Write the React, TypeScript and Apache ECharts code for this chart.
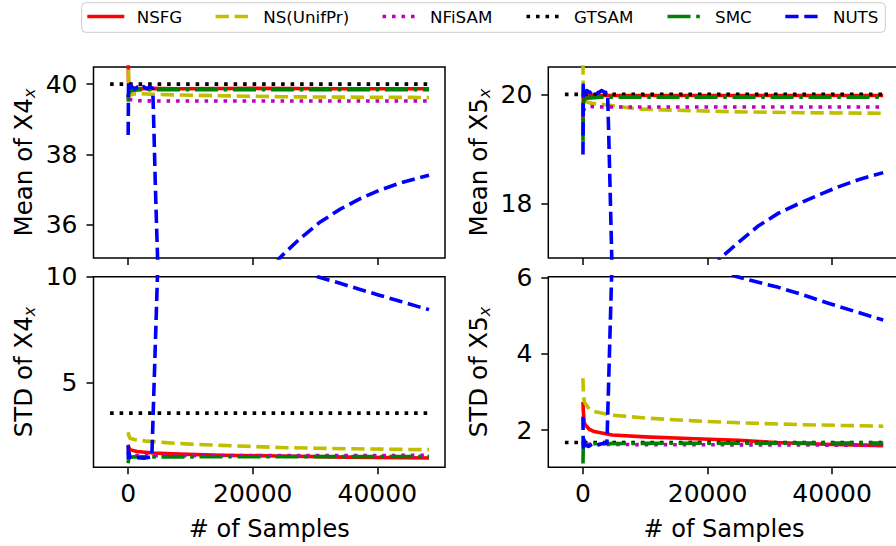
import React, { useEffect, useRef } from "react";
import * as echarts from "echarts";

type Pt = [number, number];

const FONT = '"DejaVu Sans", sans-serif';

const methodNames = ["NSFG", "NS(UnifPr)", "NFiSAM", "GTSAM", "SMC", "NUTS"];
const xTicks = [0, 20000, 40000];
const xTitle = "# of Samples";

// ---- Mean of X4x (top-left)
const meanX4Ticks = [36, 38, 40];
const meanX4_NSFG: Pt[] = [[0, 40.8], [50, 40.1], [150, 39.8], [400, 39.89], [1000, 39.87], [3000, 39.88], [8000, 39.87], [20000, 39.88], [35000, 39.87], [48300, 39.87]];
const meanX4_NSUnif: Pt[] = [[0, 41.5], [40, 40.3], [120, 39.76], [300, 39.68], [800, 39.72], [2000, 39.73], [4000, 39.71], [8000, 39.69], [15000, 39.67], [25000, 39.64], [35000, 39.63], [48300, 39.62]];
const meanX4_NFiSAM: Pt[] = [[0, 39.7], [80, 39.48], [300, 39.56], [1000, 39.53], [5000, 39.52], [48300, 39.52]];
const meanX4_GTSAM: Pt[] = [[-2900, 40], [48300, 40]];
const meanX4_SMC: Pt[] = [[0, 39.5], [50, 39.72], [200, 39.78], [600, 39.82], [2000, 39.84], [10000, 39.84], [48300, 39.84]];
const meanX4_NUTS: Pt[] = [[0, 38.55], [60, 40.05], [200, 39.88], [500, 39.95], [1000, 39.86], [1500, 39.92], [2000, 39.87], [2500, 39.93], [3000, 39.87], [3500, 39.92], [3950, 39.88], [4150, 38.6], [4350, 37.2], [4550, 36.0], [4750, 34.9], [5000, 33.4], [6000, 28.5], [7500, 25.0], [9000, 24.5], [11000, 26.5], [14000, 29.8], [17000, 32.0], [20000, 33.6], [22500, 34.5], [24300, 35.04], [27500, 35.58], [30700, 36.05], [33900, 36.42], [37100, 36.72], [40300, 36.97], [43500, 37.17], [46700, 37.33], [48300, 37.4]];

// ---- Mean of X5x (top-right)
const meanX5Ticks = [18, 20];
const meanX5_NSFG: Pt[] = [[0, 19.5], [60, 20.05], [200, 19.95], [600, 19.99], [2000, 19.98], [10000, 19.98], [48200, 19.98]];
const meanX5_NSUnif: Pt[] = [[0, 20.6], [30, 20.2], [100, 19.95], [400, 19.87], [1200, 19.84], [3700, 19.81], [9000, 19.73], [15000, 19.71], [25000, 19.68], [35000, 19.665], [48200, 19.655]];
const meanX5_NFiSAM: Pt[] = [[0, 19.85], [60, 19.6], [200, 19.74], [600, 19.78], [3000, 19.77], [48200, 19.77]];
const meanX5_GTSAM: Pt[] = [[-2900, 20], [48200, 20]];
const meanX5_SMC: Pt[] = [[0, 19.15], [40, 19.8], [200, 19.9], [600, 19.93], [3000, 19.95], [48200, 19.95]];
const meanX5_NUTS: Pt[] = [[0, 18.9], [50, 20.17], [250, 20.0], [600, 20.07], [1200, 20.03], [1800, 20.08], [2400, 20.02], [3000, 20.07], [3600, 20.03], [3950, 20.04], [4150, 19.2], [4350, 18.3], [4650, 16.9], [5200, 14.8], [6500, 13.2], [8500, 13.0], [11000, 13.9], [14000, 15.0], [17000, 15.9], [20000, 16.6], [22000, 17.0], [25000, 17.3], [28200, 17.6], [31400, 17.83], [34600, 18.0], [37800, 18.16], [41000, 18.31], [44200, 18.44], [48200, 18.57]];

// ---- STD of X4x (bottom-left)
const stdX4Ticks = [5, 10];
const stdX4_NSFG: Pt[] = [[0, 2.1], [100, 1.95], [400, 1.85], [1400, 1.77], [4000, 1.7], [8300, 1.65], [15000, 1.6], [24300, 1.56], [35000, 1.51], [48300, 1.47]];
const stdX4_NSUnif: Pt[] = [[0, 2.68], [80, 2.55], [300, 2.4], [1100, 2.33], [3000, 2.26], [6000, 2.19], [9900, 2.12], [15000, 2.06], [20000, 2.01], [24300, 1.96], [30000, 1.93], [36000, 1.9], [42000, 1.88], [48300, 1.86]];
const stdX4_NFiSAM: Pt[] = [[0, 1.75], [100, 1.62], [500, 1.58], [5000, 1.58], [48300, 1.59]];
const stdX4_GTSAM: Pt[] = [[-2900, 3.58], [48300, 3.58]];
const stdX4_SMC: Pt[] = [[0, 1.22], [60, 1.42], [300, 1.5], [1000, 1.52], [5000, 1.52], [48300, 1.54]];
const stdX4_NUTS: Pt[] = [[0, 2.05], [40, 1.3], [120, 1.75], [300, 1.5], [800, 1.45], [1500, 1.48], [2500, 1.46], [3500, 1.5], [3800, 1.52], [4700, 10.0], [5000, 11.6], [6000, 15.5], [8000, 18], [11000, 17.5], [15000, 15.5], [20000, 13.5], [25000, 11.4], [30400, 10.0], [33900, 9.7], [37100, 9.41], [40300, 9.13], [43500, 8.86], [46700, 8.58], [48300, 8.45]];

// ---- STD of X5x (bottom-right)
const stdX5Ticks = [2, 4, 6];
const stdX5_NSFG: Pt[] = [[0, 2.74], [60, 2.5], [200, 2.2], [400, 2.13], [1000, 2.02], [1800, 1.96], [4700, 1.87], [10000, 1.82], [18000, 1.77], [25000, 1.73], [31000, 1.67], [40000, 1.62], [48200, 1.59]];
const stdX5_NSUnif: Pt[] = [[0, 3.36], [60, 3.0], [200, 2.75], [430, 2.68], [1000, 2.55], [2000, 2.48], [4700, 2.39], [10500, 2.31], [18000, 2.24], [25000, 2.19], [35000, 2.14], [48200, 2.1]];
const stdX5_NFiSAM: Pt[] = [[0, 1.7], [100, 1.58], [400, 1.63], [2000, 1.62], [48200, 1.6]];
const stdX5_GTSAM: Pt[] = [[-2900, 1.67], [48200, 1.67]];
const stdX5_SMC: Pt[] = [[0, 1.12], [40, 1.5], [150, 1.62], [500, 1.64], [2000, 1.64], [10000, 1.65], [48200, 1.66]];
const stdX5_NUTS: Pt[] = [[0, 2.35], [40, 1.55], [150, 1.75], [400, 1.6], [900, 1.57], [1500, 1.63], [2200, 1.6], [3000, 1.64], [3850, 1.66], [4600, 6.05], [5000, 7.5], [6000, 9.0], [8000, 9.5], [12000, 8.8], [17000, 7.6], [21000, 6.7], [24300, 6.05], [27500, 5.91], [31360, 5.75], [35000, 5.57], [39400, 5.33], [44000, 5.1], [48200, 4.89]];

const X_MIN = -5565;
const X_MAX = 50865;
const LW = 3.6;

const methodStyles: { color: string; dash: any }[] = [
  { color: "#ff0000", dash: "solid" },
  { color: "#bfbf00", dash: [13.3, 5.7] },
  { color: "#bf00bf", dash: [3.6, 5.9] },
  { color: "#000000", dash: [3.6, 5.9] },
  { color: "#008000", dash: [23, 5.7, 3.6, 5.7] },
  { color: "#0000ff", dash: [13.3, 5.7] },
];

const panels = [
  { title: "Mean of X4", rect: { left: 93.5, top: 67, width: 351.5, height: 191 }, yMin: 35.04, yMax: 40.49, yTicks: meanX4Ticks, showX: false, data: [meanX4_NSFG, meanX4_NSUnif, meanX4_NFiSAM, meanX4_GTSAM, meanX4_SMC, meanX4_NUTS], titleX: 23.8 },
  { title: "Mean of X5", rect: { left: 548.3, top: 67, width: 351.5, height: 191 }, yMin: 17.01, yMax: 20.5, yTicks: meanX5Ticks, showX: false, data: [meanX5_NSFG, meanX5_NSUnif, meanX5_NFiSAM, meanX5_GTSAM, meanX5_SMC, meanX5_NUTS], titleX: 478.3 },
  { title: "STD of X4", rect: { left: 93.5, top: 276.7, width: 351.5, height: 190.6 }, yMin: 1.03, yMax: 10, yTicks: stdX4Ticks, showX: true, data: [stdX4_NSFG, stdX4_NSUnif, stdX4_NFiSAM, stdX4_GTSAM, stdX4_SMC, stdX4_NUTS], titleX: 23.8 },
  { title: "STD of X5", rect: { left: 548.3, top: 276.7, width: 351.5, height: 190.6 }, yMin: 1.02, yMax: 6.03, yTicks: stdX5Ticks, showX: true, data: [stdX5_NSFG, stdX5_NSUnif, stdX5_NFiSAM, stdX5_GTSAM, stdX5_SMC, stdX5_NUTS], titleX: 478.3 },
];

const legendHandleX = [89.1, 215.6, 382.5, 526.5, 667.5, 785.3];

function buildOption() {
  const tickStyle = { color: "#000", width: 1.5 };
  const labelStyle = { fontSize: 25, fontFamily: FONT, color: "#000" };

  const series: any[] = [];
  panels.forEach((p, gi) => {
    p.data.forEach((d, k) => {
      const st = methodStyles[k];
      series.push({
        type: "line",
        name: methodNames[k] + "_" + gi,
        xAxisIndex: gi,
        yAxisIndex: gi,
        data: d,
        showSymbol: false,
        symbol: "none",
        smooth: false,
        clip: true,
        silent: true,
        emphasis: { disabled: true },
        lineStyle: { color: st.color, width: LW, type: st.dash, cap: "butt", join: "round" },
      });
    });
  });

  const graphic: any[] = [];
  // legend
  graphic.push({
    type: "rect",
    z: 100,
    shape: { x: 81.7, y: 2.7, width: 803.6, height: 29.6, r: 4 },
    style: { fill: "rgba(255,255,255,0.8)", stroke: "#cccccc", lineWidth: 1 },
  });
  methodNames.forEach((name, k) => {
    const st = methodStyles[k];
    const hx = legendHandleX[k];
    graphic.push({
      type: "line",
      z: 101,
      shape: { x1: hx, y1: 16.5, x2: hx + 33.4, y2: 16.5 },
      style: {
        stroke: st.color,
        lineWidth: LW,
        lineDash: st.dash === "solid" ? null : st.dash,
        lineCap: st.dash === "solid" ? "square" : "butt",
      },
    });
    graphic.push({
      type: "text",
      z: 101,
      x: hx + 47.6,
      y: 16.8,
      style: { text: name, fill: "#000", fontSize: 16.7, fontFamily: FONT, align: "left", verticalAlign: "middle" },
    });
  });
  // y titles
  panels.forEach((p) => {
    graphic.push({
      type: "text",
      z: 50,
      x: p.titleX,
      y: p.rect.top + p.rect.height / 2,
      rotation: Math.PI / 2,
      style: {
        text: "{m|" + p.title + "}{s|x}",
        align: "center",
        verticalAlign: "middle",
        rich: {
          m: { fontSize: 24.5, fontFamily: FONT, fill: "#000", lineHeight: 28 },
          s: { fontSize: 16, fontFamily: FONT, fontStyle: "italic", fill: "#000", lineHeight: 12, verticalAlign: "bottom" },
        },
      },
    });
    if (p.showX) {
      graphic.push({
        type: "text",
        z: 50,
        x: p.rect.left + p.rect.width / 2,
        y: 528.5,
        style: { text: xTitle, fill: "#000", fontSize: 24, fontFamily: FONT, align: "center", verticalAlign: "middle" },
      });
    }
  });

  return {
    animation: false,
    backgroundColor: "#ffffff",
    grid: panels.map((p) => ({
      ...p.rect,
      show: true,
      borderColor: "#000",
      borderWidth: 1.5,
      backgroundColor: "transparent",
      containLabel: false,
      outerBoundsMode: "none",
    })),
    xAxis: panels.map((p, i) => ({
      type: "value",
      gridIndex: i,
      position: "bottom",
      min: X_MIN,
      max: X_MAX,
      axisLine: { show: false, onZero: false },
      splitLine: { show: false },
      axisTick: { show: true, customValues: xTicks, length: 7, lineStyle: tickStyle },
      axisLabel: { show: p.showX, customValues: xTicks, formatter: (v: number) => String(v), margin: 14, ...labelStyle },
    })),
    yAxis: panels.map((p, i) => ({
      type: "value",
      gridIndex: i,
      position: "left",
      min: p.yMin,
      max: p.yMax,
      axisLine: { show: false, onZero: false },
      splitLine: { show: false },
      axisTick: { show: true, customValues: p.yTicks, length: 7, lineStyle: tickStyle },
      axisLabel: { show: true, customValues: p.yTicks, formatter: (v: number) => String(v), margin: 16, ...labelStyle },
    })),
    series,
    graphic,
  };
}

export default function App() {
  const ref = useRef<HTMLDivElement>(null);
  useEffect(() => {
    if (!ref.current) return;
    const chart = echarts.init(ref.current, undefined, { renderer: "svg" });
    chart.setOption(buildOption() as any);
    return () => chart.dispose();
  }, []);
  return (
    <div
      ref={ref}
      style={{ position: "fixed", left: 0, top: 0, width: 896, height: 546, background: "#fff" }}
    />
  );
}
